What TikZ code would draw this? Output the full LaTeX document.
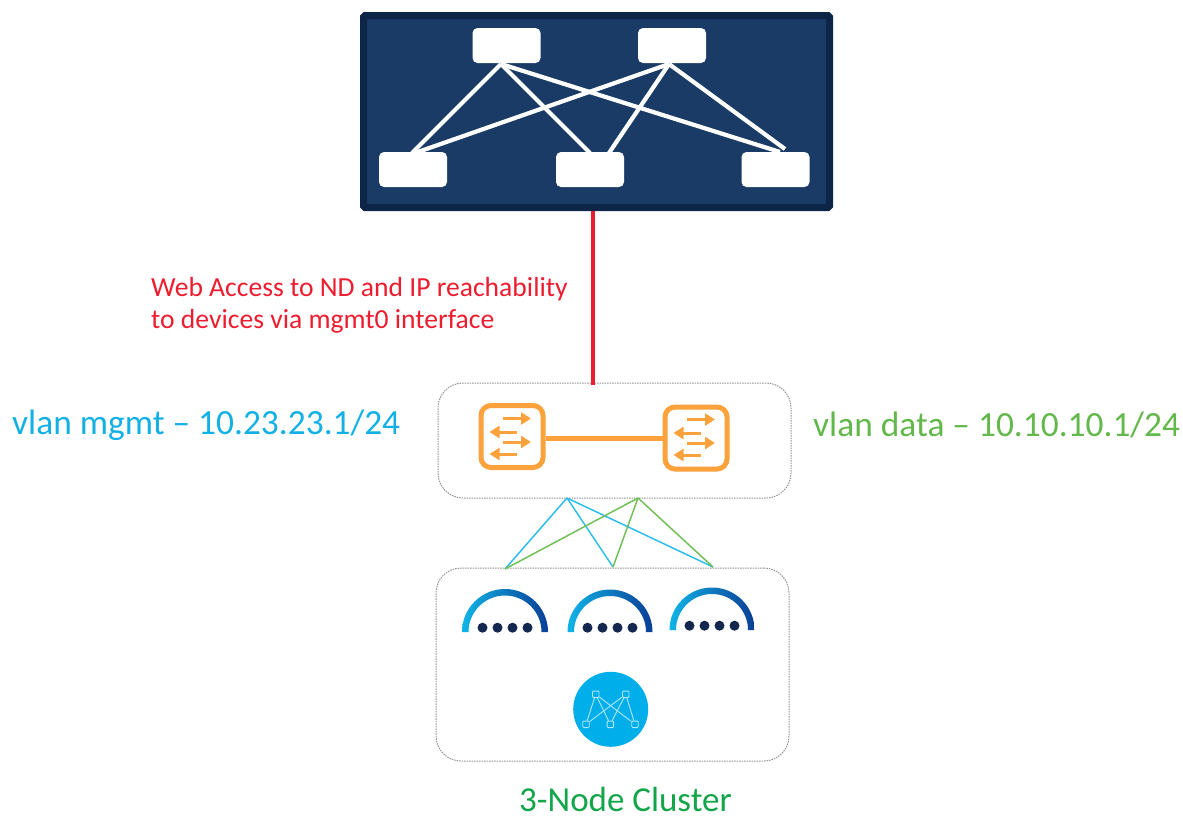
\documentclass[tikz,border=0pt]{standalone}
\usepackage{fontspec}
\setmainfont{Carlito}
\usetikzlibrary{arrows.meta}
\definecolor{fabdark}{HTML}{0D2647}
\definecolor{fabblue}{HTML}{1A3B66}
\definecolor{orng}{HTML}{FBA23C}
\definecolor{redl}{HTML}{ED1C2E}
\definecolor{cyn}{HTML}{2DBDE8}
\definecolor{grn}{HTML}{72BF5A}
\definecolor{txtblue}{HTML}{12B0E4}
\definecolor{txtgreen}{HTML}{62B84B}
\definecolor{txtdeep}{HTML}{12A54A}
\definecolor{disc}{HTML}{00AEEA}
\definecolor{dotc}{HTML}{14284F}
\definecolor{arcl}{HTML}{10B4E6}
\definecolor{arcm}{HTML}{0082C0}
\definecolor{arcr}{HTML}{0A3F96}
\tikzset{
  spineleaf/.style={fill=white,rounded corners=5pt,minimum width=68pt,minimum height=35pt,inner sep=0pt},
  fabline/.style={draw=white,line width=4.2pt},
  groupbox/.style={draw=black!42,dash pattern=on 1.5pt off 1pt,line width=1pt,fill=white,rounded corners=25pt,inner sep=0pt},
  switchbox/.style={draw=orng,line width=5pt,fill=white,rounded corners=10pt,minimum size=62pt,inner sep=0pt},
  swarrow/.style={draw=orng,line width=3pt,-{Triangle[length=10pt,width=12pt]}},
  mgmtlink/.style={draw=cyn,line width=1.5pt},
  datalink/.style={draw=grn,line width=1.5pt},
  netpt/.style={draw=white!70!disc,line width=0.9pt,minimum size=6.5pt,inner sep=0pt,fill=disc,rounded corners=1pt},
  netln/.style={draw=white!70!disc,line width=0.9pt},
  nddot/.style={circle,fill=dotc,minimum size=10pt,inner sep=0pt},
  lab/.style={inner sep=0pt,anchor=west}
}
\newcommand{\ndarc}[3]{%
  \begin{scope}[shift={(#1,#2)},x=1pt,y=1pt]
    \shade[left color=arcl,middle color=arcm,right color=arcr]
      (-#3,0) arc (180:0:#3) -- ++(-6.5,0) arc (0:180:#3-6.5) -- cycle;
    \foreach \n/\dx in {a/-22.5,b/-7.5,c/7.5,d/22.5}
      \node[nddot] (dot#1\n) at (\dx,4.3) {};
  \end{scope}}
\begin{document}
\begin{tikzpicture}[x=1pt,y=-1pt]
\useasboundingbox (0,0) rectangle (1183,815);
% fabric
\node[draw=fabdark,fill=fabblue,line width=7pt,rounded corners=1.5pt,minimum width=466pt,minimum height=192pt,inner sep=0pt] (fabric) at (596.5,111.5) {};
\node[spineleaf] (s1) at (506.5,45.5) {};
\node[spineleaf] (s2) at (672,45.5) {};
\node[spineleaf] (l1) at (413,169.5) {};
\node[spineleaf] (l2) at (590,169.5) {};
\node[spineleaf] (l3) at (775.5,169.5) {};
\coordinate (s1b) at (501,64);
\coordinate (s2b) at (669,64);
\draw[fabline] (s1b) -- (412,153);
\draw[fabline] (s1b) -- (590,153);
\draw[fabline] (s1b) -- (780,152);
\draw[fabline] (s2b) -- (415,153);
\draw[fabline] (s2b) -- (609,153);
\draw[fabline] (s2b) -- (785,149);
% group boxes
\node[groupbox,minimum width=353pt,minimum height=115pt] (top) at (614.5,440.5) {};
\node[groupbox,minimum width=353pt,minimum height=193pt] (bottom) at (612.5,664.5) {};
% red link
\draw[draw=redl,line width=4pt] (fabric.south -| 593,0) -- (593,385);
% switches
\node[switchbox] (sw1) at (512,436.5) {};
\node[switchbox] (sw2) at (696,438) {};
\draw[draw=orng,line width=5pt] (sw1.east |- 0,438.5) -- (sw2.west |- 0,438.5);
\foreach \sw/\dx/\dy in {sw1/0/0,sw2/184/1}{
  \begin{scope}[shift={(\dx,\dy)}]
    \draw[swarrow] (503,418.5) -- (531,418.5);
    \draw[swarrow] (517,432) -- (489.5,432);
    \draw[swarrow] (503,442) -- (531,442);
    \draw[swarrow] (517,454) -- (489.5,454);
  \end{scope}}
% links
\coordinate (m) at (567,498);
\coordinate (d) at (638,498);
\coordinate (n1) at (505,569);
\coordinate (n2) at (613,567);
\coordinate (n3) at (713,567);
\draw[mgmtlink] (m) -- (n1);
\draw[mgmtlink] (m) -- (n2);
\draw[mgmtlink] (m) -- (n3);
\draw[datalink] (d) -- (n1);
\draw[datalink] (d) -- (n2);
\draw[datalink] (d) -- (n3);
% ND arcs
\ndarc{505}{632}{43}
\ndarc{610}{632}{42.5}
\ndarc{712}{630}{42.5}
% disc
\node[circle,fill=disc,minimum size=75pt,inner sep=0pt] (hub) at (610.7,709.3) {};
\node[netpt] (t1) at (595.7,694.3) {};
\node[netpt] (t2) at (625.7,694.3) {};
\node[netpt] (b1) at (586,724.3) {};
\node[netpt] (b2) at (610.3,724.3) {};
\node[netpt] (b3) at (635,724.3) {};
\foreach \a/\b in {t1/b1,t1/b2,t1/b3,t2/b1,t2/b2,t2/b3}
  \draw[netln] (\a) -- (\b);
% labels
\node[lab,text=redl,font=\fontsize{27.6}{32}\selectfont,align=left] (weblab) at (151,305) {Web Access to ND and IP reachability\\to devices via mgmt0 interface};
\node[lab,text=txtblue,font=\fontsize{35.4}{38}\selectfont] (mgmtlab) at (12,425) {vlan mgmt – 10.23.23.1/24};
\node[lab,text=txtgreen,font=\fontsize{35.4}{38}\selectfont] (datalab) at (813,425) {vlan data – 10.10.10.1/24};
\node[lab,text=txtdeep,font=\fontsize{35}{38}\selectfont] (clulab) at (519,799) {3-Node Cluster};
\end{tikzpicture}
\end{document}
